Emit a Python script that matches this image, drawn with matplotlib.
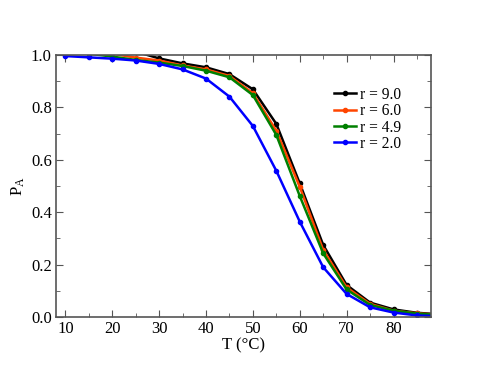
import matplotlib
matplotlib.use("Agg")
import matplotlib.pyplot as plt
from matplotlib.ticker import MultipleLocator

plt.rcParams['font.family'] = ['Liberation Serif', 'DejaVu Serif']
plt.rcParams['mathtext.fontset'] = 'custom'
plt.rcParams['mathtext.rm'] = 'Liberation Serif'

T = [10, 15, 20, 25, 30, 35, 40, 45, 50, 55, 60, 65, 70, 75, 80, 85, 90]
p_r90 = [1.05, 1.04, 1.03, 1.013, 0.987, 0.968, 0.953, 0.927, 0.869, 0.737, 0.51, 0.275, 0.122, 0.055, 0.029, 0.016, 0.010]
p_r60 = [1.03, 1.02, 1.005, 0.99, 0.979, 0.96, 0.945, 0.92, 0.854, 0.711, 0.497, 0.256, 0.113, 0.050, 0.024, 0.014, 0.008]
p_r49 = [1.02, 1.005, 0.994, 0.981, 0.971, 0.958, 0.94, 0.915, 0.847, 0.695, 0.462, 0.243, 0.105, 0.046, 0.024, 0.013, 0.007]
p_r20 = [0.996, 0.991, 0.986, 0.979, 0.966, 0.945, 0.91, 0.841, 0.729, 0.558, 0.364, 0.19, 0.088, 0.037, 0.017, 0.006, 0.003]

series = [("r = 9.0", p_r90, "#000000"),
          ("r = 6.0", p_r60, "#ff4500"),
          ("r = 4.9", p_r49, "#008000"),
          ("r = 2.0", p_r20, "#0000ff")]

fig = plt.figure(figsize=(4.85, 3.74), dpi=100)
ax = fig.add_axes([56/485, 57/374, 375/485, 262/374])

for label, vals, col in series:
    ax.plot(T, vals, color=col, lw=1.8, marker='o', ms=3, label=label)

ax.set_xlim(8, 88)
ax.set_ylim(0, 1.0)
ax.xaxis.set_major_locator(MultipleLocator(10))
ax.xaxis.set_minor_locator(MultipleLocator(5))
ax.yaxis.set_major_locator(MultipleLocator(0.2))
ax.yaxis.set_minor_locator(MultipleLocator(0.1))
ax.yaxis.set_major_formatter(matplotlib.ticker.FormatStrFormatter('%.1f'))
ax.tick_params(which='both', direction='in', top=True, right=True, color='#555555', labelsize=12)
ax.tick_params(which='major', length=5, pad=3)
ax.tick_params(which='minor', length=3)
for s in ax.spines.values():
    s.set_color('#555555')
    s.set_linewidth(1.2)

ax.set_xlabel('T (°C)', fontsize=12, labelpad=0)
ax.set_ylabel(r'$\mathregular{P_A}$', fontsize=12, labelpad=3)

ax.legend(loc='upper left', bbox_to_anchor=(0.725, 0.902), frameon=False, fontsize=11.2,
          handlelength=1.4, handletextpad=0.25, labelspacing=0.02, borderaxespad=0)

fig.savefig('out.png', dpi=100)
